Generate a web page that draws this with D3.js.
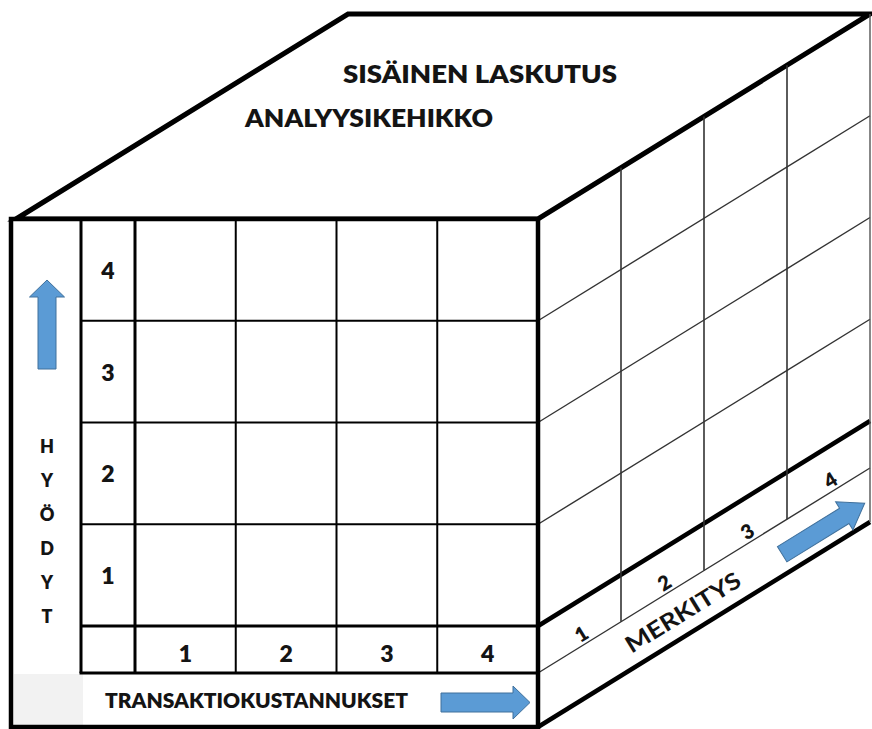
<!DOCTYPE html>
<html>
<head>
<meta charset="utf-8">
<script src="https://cdn.jsdelivr.net/npm/d3@7"></script>
<style>
  body { margin: 0; background: #fff; }
  text { font-family: Lato, "Open Sans", sans-serif; fill: #141414; }
</style>
</head>
<body>
<div id="chart"></div>
<script>
// scale levels, same on all three axes of the cube
const levels = [1, 2, 3, 4];
const titleLines = ["SISÄINEN LASKUTUS", "ANALYYSIKEHIKKO"];
const benefitLabel = "HYÖDYT";
const costLabel = "TRANSAKTIOKUSTANNUKSET";
const weightLabel = "MERKITYS";

const W = 872, H = 729;
const svg = d3.select("#chart").append("svg")
    .attr("width", W)
    .attr("height", H);

// front face frame
const front = { x0: 11, x1: 538, y0: 219, y1: 727, labelCol: 81, numCol: 135, numRow: 626, axisRow: 673 };
const depth = { dx: 332, dy: -205 };
const slope = depth.dy / depth.dx;
const angle = Math.atan2(depth.dy, depth.dx) * 180 / Math.PI;
const heavy = 800;

const x = d3.scaleBand().domain(levels).range([front.numCol, front.x1]);
const y = d3.scaleBand().domain(levels.slice().reverse()).range([front.y0, front.numRow]);
const z = d3.scaleBand().domain(levels).range([0, depth.dx]);

// point on the right face: t = depth offset, v = height on the front edge
const rp = (t, v) => [front.x1 + t, v + t * slope];

// arrow pointing along +x, from 0 to len
const arrowPath = (len, shaft, head, headLen) => {
    const p = d3.path();
    p.moveTo(0, -shaft / 2);
    p.lineTo(len - headLen, -shaft / 2);
    p.lineTo(len - headLen, -head / 2);
    p.lineTo(len, 0);
    p.lineTo(len - headLen, head / 2);
    p.lineTo(len - headLen, shaft / 2);
    p.lineTo(0, shaft / 2);
    p.closePath();
    return p.toString();
};
const arrow = (g, len, shaft, head, headLen) => g.append("path")
    .attr("d", arrowPath(len, shaft, head, headLen))
    .attr("fill", "#5b9bd5")
    .attr("stroke", "#41719c")
    .attr("stroke-width", 1);

const line = (g, a, b, w, color) => g.append("line")
    .attr("x1", a[0]).attr("y1", a[1])
    .attr("x2", b[0]).attr("y2", b[1])
    .attr("stroke", color || "#000")
    .attr("stroke-width", w);

// ---- top face
const topFace = svg.append("g");
topFace.append("polygon")
    .attr("points", [
        [16, front.y0],
        [16 + depth.dx, front.y0 + depth.dy],
        [front.x1 + depth.dx, front.y0 + depth.dy],
        [front.x1, front.y0]
    ].map(p => p.join(",")).join(" "))
    .attr("fill", "#fff")
    .attr("stroke", "#000")
    .attr("stroke-width", 5)
    .attr("stroke-linejoin", "miter");

topFace.selectAll("text.title")
    .data(titleLines)
    .enter().append("text")
    .attr("class", "title")
    .attr("x", (d, i) => i === 0 ? 343 : 245)
    .attr("y", (d, i) => i === 0 ? 83 : 127)
    .attr("textLength", (d, i) => i === 0 ? 274 : 248)
    .attr("lengthAdjust", "spacingAndGlyphs")
    .style("font-size", "25px")
    .style("font-weight", heavy)
    .text(d => d);

// ---- right face
const side = svg.append("g");
// row lines carried back from the front face
levels.slice(0, 3).forEach(d => {
    line(side, rp(0, y(d)), rp(depth.dx, y(d)), 1.4, "#333");
});
line(side, rp(0, front.axisRow), rp(depth.dx, front.axisRow), 1.4, "#333");
line(side, rp(0, front.numRow), rp(depth.dx, front.numRow), 4.5);
line(side, rp(0, front.y1), rp(depth.dx, front.y1), 4.5);
// depth columns
levels.slice(1).forEach(d => {
    line(side, rp(z(d), front.y0), rp(z(d), front.axisRow), 1.6, "#333");
});
line(side, rp(depth.dx, front.y0), rp(depth.dx, front.y1), 1.4, "#555");

side.selectAll("text.znum")
    .data(levels)
    .enter().append("text")
    .attr("class", "znum")
    .attr("transform", d => {
        const p = rp(z(d) + z.bandwidth() / 2 + 2, 661);
        return `translate(${p[0]},${p[1]}) rotate(${angle})`;
    })
    .attr("text-anchor", "middle")
    .attr("dy", "0.35em")
    .style("font-size", "20px")
    .style("font-weight", heavy)
    .text(d => d);

const mp = rp(145, 702);
side.append("text")
    .attr("transform", `translate(${mp[0]},${mp[1]}) rotate(${angle})`)
    .attr("text-anchor", "middle")
    .attr("dy", "0.35em")
    .attr("textLength", 131)
    .attr("lengthAdjust", "spacingAndGlyphs")
    .style("font-size", "23px")
    .style("font-weight", "bold")
    .text(weightLabel);

const ap = rp(285, 705);
arrow(side.append("g").attr("transform", `translate(${ap[0]},${ap[1]}) rotate(${angle}) translate(-48,0)`), 97, 18, 33, 24);

// ---- front face
const face = svg.append("g");
face.append("rect")
    .attr("x", front.x0).attr("y", front.y0)
    .attr("width", front.x1 - front.x0).attr("height", front.y1 - front.y0)
    .attr("fill", "#fff");
face.append("rect")
    .attr("x", front.x0 + 3).attr("y", front.axisRow + 1)
    .attr("width", front.labelCol + 2 - front.x0 - 3).attr("height", front.y1 - front.axisRow - 3)
    .attr("fill", "#f2f2f2");

// grid
levels.slice(1).forEach(d => line(face, [x(d), front.y0], [x(d), front.axisRow], 2));
levels.slice(0, 3).forEach(d => line(face, [front.labelCol, y(d)], [front.x1, y(d)], 2));
line(face, [front.labelCol, front.y0], [front.labelCol, front.axisRow], 3);
line(face, [front.numCol, front.y0], [front.numCol, front.axisRow], 3);
line(face, [front.labelCol, front.numRow], [front.x1, front.numRow], 3);
line(face, [front.labelCol - 1.5, front.axisRow], [front.x1, front.axisRow], 3);

// benefit levels (rows)
face.selectAll("text.ynum")
    .data(levels)
    .enter().append("text")
    .attr("class", "ynum")
    .attr("x", (front.labelCol + front.numCol) / 2)
    .attr("y", d => y(d) + y.bandwidth() / 2 + 9)
    .attr("text-anchor", "middle")
    .style("font-size", "23px")
    .style("font-weight", heavy)
    .text(d => d);

// cost levels (columns)
face.selectAll("text.xnum")
    .data(levels)
    .enter().append("text")
    .attr("class", "xnum")
    .attr("x", d => x(d) + x.bandwidth() / 2)
    .attr("y", front.axisRow - 11)
    .attr("text-anchor", "middle")
    .style("font-size", "23px")
    .style("font-weight", heavy)
    .text(d => d);

// vertical axis title, one letter per line
const letters = benefitLabel.split("");
const ly = d3.scalePoint().domain(d3.range(letters.length)).range([453, 623]);
face.selectAll("text.yletter")
    .data(letters)
    .enter().append("text")
    .attr("class", "yletter")
    .attr("x", 47)
    .attr("y", (d, i) => ly(i))
    .attr("text-anchor", "middle")
    .style("font-size", "18px")
    .style("font-weight", heavy)
    .text(d => d);

arrow(face.append("g").attr("transform", "translate(47,369) rotate(-90)"), 89, 18, 35, 17);

face.append("text")
    .attr("x", 105)
    .attr("y", 708)
    .attr("textLength", 303)
    .attr("lengthAdjust", "spacingAndGlyphs")
    .style("font-size", "21px")
    .style("font-weight", heavy)
    .text(costLabel);

arrow(face.append("g").attr("transform", "translate(441,702.5)"), 89, 19, 33, 17);

// outer border on top
face.append("rect")
    .attr("x", front.x0).attr("y", front.y0)
    .attr("width", front.x1 - front.x0).attr("height", front.y1 - front.y0)
    .attr("fill", "none")
    .attr("stroke", "#000")
    .attr("stroke-width", 4.5);
</script>
</body>
</html>
